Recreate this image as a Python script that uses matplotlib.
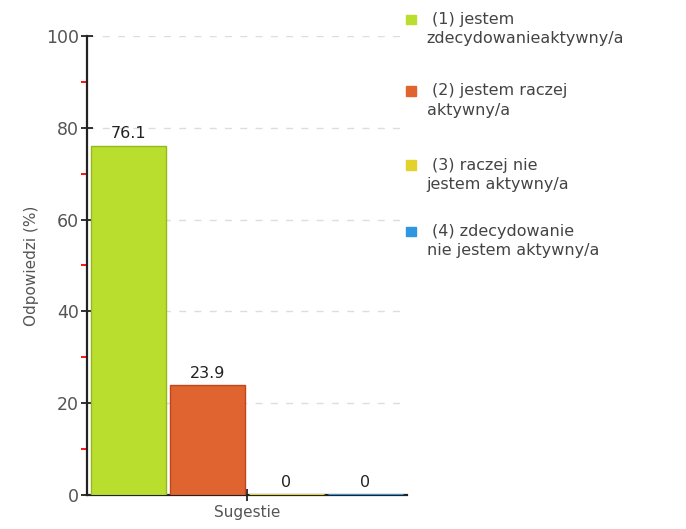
import matplotlib.pyplot as plt
from matplotlib.patches import Rectangle

# survey answers, one bar each
labels = [
    "(1) jestem\nzdecydowanieaktywny/a",
    "(2) jestem raczej\naktywny/a",
    "(3) raczej nie\njestem aktywny/a",
    "(4) zdecydowanie\nnie jestem aktywny/a",
]
values = [76.1, 23.9, 0, 0]
fills = ["#bade2e", "#e0642f", "#e4d22c", "#2f97e1"]
edges = ["#93b91c", "#c2461b", "#d6c21c", "#1f7fc8"]
group_label = "Sugestie"

fig = plt.figure(figsize=(6.86, 5.29), dpi=100)
ax = fig.add_axes([0.1268, 0.0643, 0.4665, 0.8677])

xs = list(range(len(values)))
for x, v, fc, ec in zip(xs, values, fills, edges):
    lw = 1.0 if v > 0 else 2.2
    ax.bar(x, v, width=0.95, color=fc, edgecolor=ec if v > 0 else fc,
           linewidth=lw, zorder=3)
    txt = f"{v:.1f}" if v > 0 else "0"
    ax.text(x, v + 1.0, txt, ha="center", va="bottom", fontsize=11.5,
            color="#222222", zorder=4)

ax.set_xlim(-0.525, 3.525)
ax.set_ylim(0, 100)
ax.set_yticks([0, 20, 40, 60, 80, 100])
ax.set_yticks([10, 30, 50, 70, 90], minor=True)
ax.set_xticks([1.5])
ax.set_xticklabels([group_label])

ax.yaxis.grid(True, linestyle=(0, (5, 6)), color="#dddddd", linewidth=1, zorder=0)
ax.tick_params(axis="y", which="major", direction="inout", length=8, width=1.3,
               colors="#222222", labelcolor="#555555", labelsize=12.5, pad=2)
ax.tick_params(axis="y", which="minor", direction="out", length=4, width=1.3,
               colors="red")
ax.tick_params(axis="x", direction="inout", length=8, width=1.3,
               colors="#222222", labelcolor="#555555", labelsize=11, pad=3)

for s in ["top", "right"]:
    ax.spines[s].set_visible(False)
for s in ["left", "bottom"]:
    ax.spines[s].set_linewidth(1.6)
    ax.spines[s].set_color("#222222")

ax.set_ylabel("Odpowiedzi (%)", fontsize=11, color="#555555", labelpad=5)

# legend drawn by hand to the right of the plot
leg_y = [0.963, 0.828, 0.688, 0.562]
for y, lab, fc in zip(leg_y, labels, fills):
    fig.patches.append(Rectangle((0.592, y - 0.009), 0.014, 0.018,
                                 transform=fig.transFigure, color=fc))
    first, second = lab.split("\n")
    fig.text(0.630, y, first, fontsize=11.5, color="#444444", va="center")
    fig.text(0.622, y - 0.036, second, fontsize=11.5, color="#444444", va="center")

fig.savefig("out.png", dpi=100)
